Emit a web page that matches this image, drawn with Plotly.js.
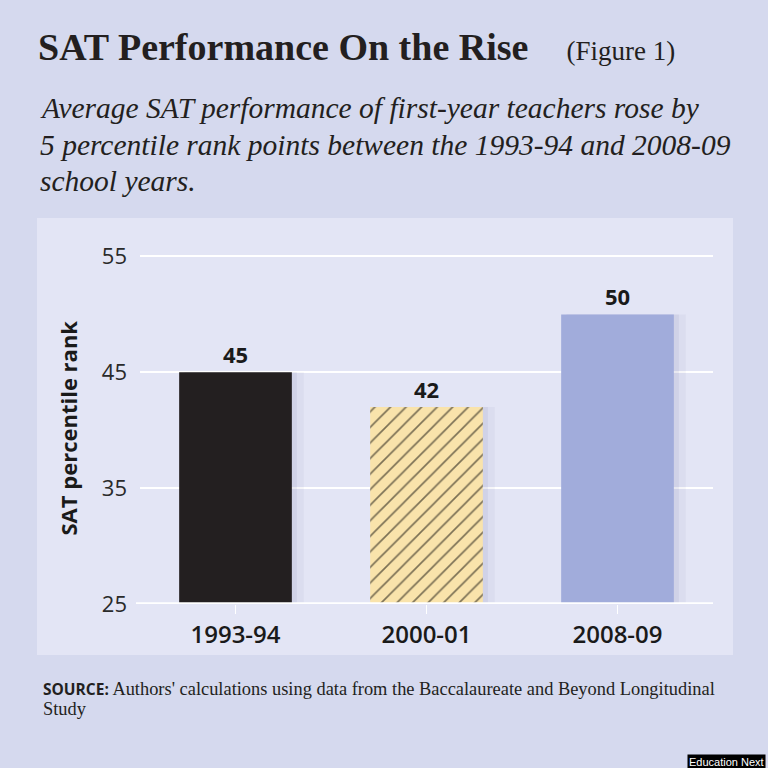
<!DOCTYPE html>
<html><head><meta charset="utf-8">
<script src="https://cdn.plot.ly/plotly-3.0.1.min.js"></script>
<style>html,body{margin:0;padding:0;background:#d5d9ee;}#chart{width:768px;height:768px;}</style>
</head><body><div id="chart"></div>
<script>
const categories = ["1993-94", "2000-01", "2008-09"];
const values = [45, 42, 50];
const yTicks = [25, 35, 45, 55];
const titleText = "SAT Performance On the Rise";
const figureText = "(Figure 1)";
const subtitleLines = [
  "Average SAT performance of first-year teachers rose by",
  "5 percentile rank points between the 1993-94 and 2008-09",
  "school years."
];
const yTitle = "SAT percentile rank";
const sourceLabel = "SOURCE:";
const sourceLines = ["Authors' calculations using data from the Baccalaureate and Beyond Longitudinal", "Study"];
const creditText = "Education Next";

const W = 768, H = 768;
const Y_TOP = 55.3;
const M = {l: 140, r: 55, b: 164, t: 0};
const pxPerUnit = 348 / 30;
M.t = Math.round(H - M.b - (Y_TOP - 25) * pxPerUnit);
const pw = W - M.l - M.r, ph = H - M.t - M.b;
const px = x => (x - M.l) / pw;
const py = y => (H - M.b - y) / ph;

const sans = "Open Sans, DejaVu Sans, sans-serif";
const serif = "Liberation Serif, DejaVu Serif, serif";
const BW = 0.59;
const catPx = pw / categories.length;
const valueFont = {family: sans, size: 22, weight: 700, color: "#1a1a1a"};

const traces = [
  {type: "bar", x: categories, y: values, width: BW + 6 / catPx, offset: -BW / 2 + 6 / catPx,
   marker: {color: "rgba(95,100,150,0.06)"}, hoverinfo: "none"},
  {type: "bar", x: categories, y: values, width: BW, offset: -BW / 2 + 5 / catPx,
   marker: {color: "rgba(95,100,150,0.09)"}, hoverinfo: "none"},
  {type: "bar", x: [categories[0]], y: [values[0]], width: BW,
   marker: {color: "#231f20"}, text: [String(values[0])], textposition: "outside",
   cliponaxis: false, textfont: valueFont, hoverinfo: "none"},
  {type: "bar", x: [categories[1]], y: [values[1]], width: BW,
   marker: {color: "#f9e3ab", pattern: {shape: "/", bgcolor: "#f9e3ab", fgcolor: "#000000", size: 11, solidity: 0.15, fillmode: "overlay"}},
   text: [String(values[1])], textposition: "outside", cliponaxis: false,
   textfont: valueFont, hoverinfo: "none"},
  {type: "bar", x: [categories[2]], y: [values[2]], width: BW,
   marker: {color: "#a1acdb"}, text: [String(values[2])], textposition: "outside",
   cliponaxis: false, textfont: valueFont, hoverinfo: "none"}
];

const annotations = [
  {xref: "paper", yref: "paper", x: px(36), y: py(47), xanchor: "left", yanchor: "middle", showarrow: false,
   text: titleText + "&nbsp;&nbsp;&nbsp;&nbsp;<span style='font-size:27px;font-weight:400'>" + figureText + "</span>",
   font: {family: serif, size: 38, color: "#231f20", weight: 700}},
  ...subtitleLines.map((t, i) => ({xref: "paper", yref: "paper", x: px(38), y: py(108 + 36.5 * i),
   xanchor: "left", yanchor: "middle", showarrow: false, text: "<i>" + t + "</i>",
   font: {family: serif, size: 29.5, color: "#231f20"}})),
  {xref: "paper", yref: "paper", x: px(67.5), y: py(428), textangle: -90, xanchor: "center", yanchor: "middle",
   showarrow: false, text: yTitle, font: {family: sans, size: 22, weight: 700, color: "#1a1a1a"}},
  {xref: "paper", yref: "paper", x: px(41), y: py(689), xanchor: "left", yanchor: "middle", showarrow: false,
   text: "<span style='font-family:Open Sans, DejaVu Sans, sans-serif;font-weight:700;font-size:15.5px'>" + sourceLabel + "</span> " + sourceLines[0],
   font: {family: serif, size: 18.4, color: "#231f20"}},
  {xref: "paper", yref: "paper", x: px(41), y: py(709), xanchor: "left", yanchor: "middle", showarrow: false,
   text: sourceLines[1], font: {family: serif, size: 18.4, color: "#231f20"}},
  {xref: "paper", yref: "paper", x: px(726), y: py(762), xanchor: "center", yanchor: "middle", showarrow: false,
   text: creditText, bgcolor: "#000000", borderpad: 1,
   font: {family: "Liberation Sans Narrow, Liberation Sans, sans-serif", size: 11, color: "#ffffff"}}
];

const layout = {
  width: W, height: H, margin: M, showlegend: false, barmode: "overlay",
  paper_bgcolor: "#d5d9ee", plot_bgcolor: "#e3e5f5",
  xaxis: {type: "category", categoryarray: categories, showgrid: false, showline: false, zeroline: false,
    ticks: "outside", ticklen: 9, tickwidth: 1.5, tickcolor: "#ffffff",
    tickfont: {family: sans, size: 24, weight: 600, color: "#1a1a1a"}, fixedrange: true},
  yaxis: {range: [25, Y_TOP], tickvals: yTicks, ticktext: yTicks.map(String), showgrid: true, gridcolor: "#ffffff", gridwidth: 2,
    zeroline: false, showline: false, ticks: "", ticklabelstandoff: 12,
    tickfont: {family: sans, size: 22, color: "#2a2a2a"}, fixedrange: true},
  shapes: [
    {type: "rect", xref: "paper", yref: "paper", x0: px(37), x1: px(733), y0: py(655), y1: py(218),
     fillcolor: "#e3e5f5", line: {width: 0}, layer: "below"},
    {type: "line", xref: "paper", yref: "y", x0: px(136), x1: 1, y0: 25, y1: 25,
     line: {color: "#ffffff", width: 3.5}, layer: "above"}
  ],
  annotations: annotations
};

Plotly.newPlot("chart", traces, layout, {displayModeBar: false, staticPlot: true});
</script></body></html>
